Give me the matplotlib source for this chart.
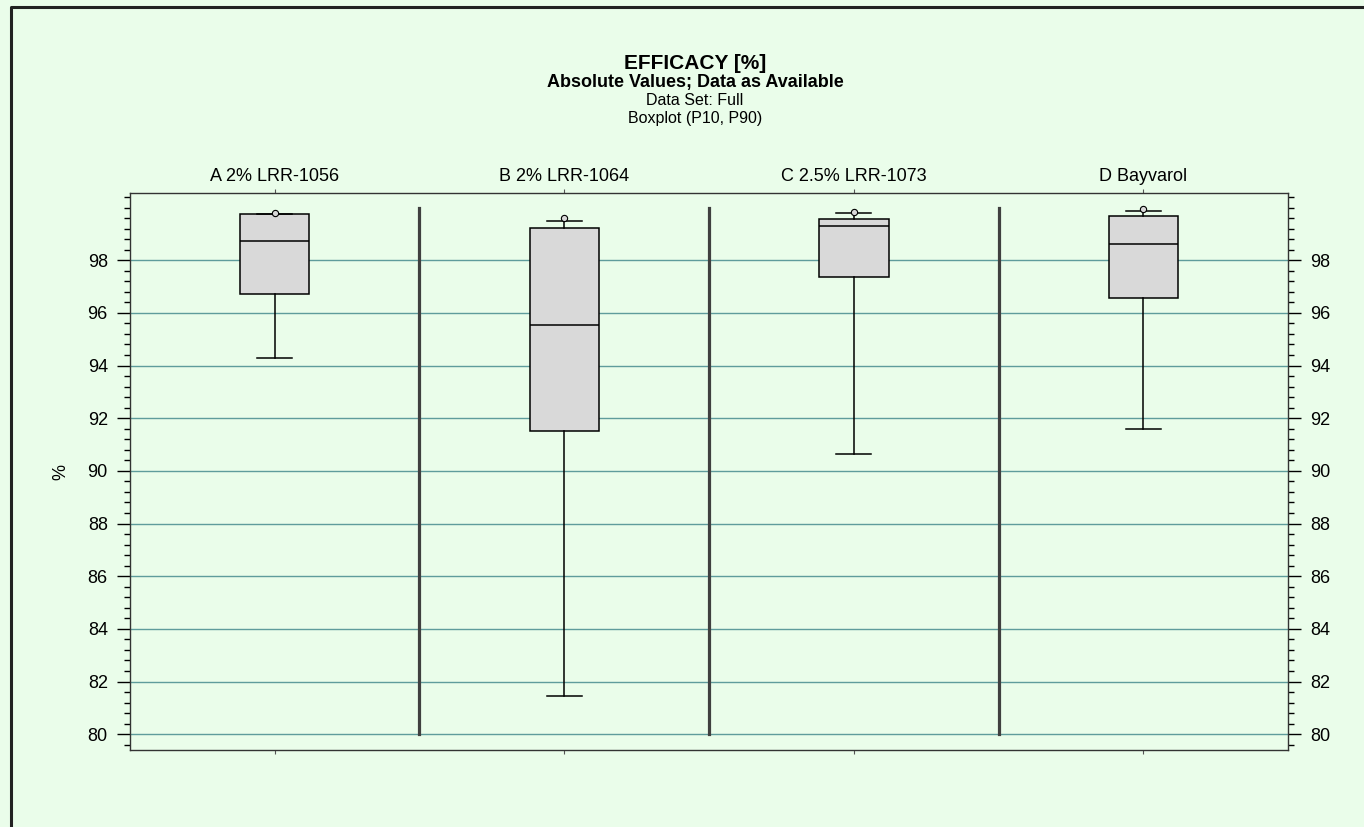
import matplotlib.pyplot as plt
from matplotlib.lines import Line2D
from matplotlib.ticker import MultipleLocator

plt.rcParams["font.family"] = ["Liberation Sans", "DejaVu Sans"]

# Boxplot summary per treatment (P10/P90 whiskers, max shown as point)
groups = ["A 2% LRR-1056", "B 2% LRR-1064", "C 2.5% LRR-1073", "D Bayvarol"]
p10 = [94.28, 81.45, 90.63, 91.58]
q1 = [96.71, 91.51, 97.35, 96.57]
median = [98.72, 95.52, 99.29, 98.61]
q3 = [99.75, 99.22, 99.57, 99.67]
p90 = [99.76, 99.50, 99.79, 99.85]
maxval = [99.80, 99.60, 99.82, 99.94]

bg = "#eafdea"
fig = plt.figure(figsize=(13.64, 8.27), dpi=100, facecolor=bg)
ax = fig.add_axes([0.0953, 0.0931, 0.849, 0.6735])
ax.set_facecolor(bg)

# outer frame
fig.add_artist(Line2D([11 / 1364, 11 / 1364, 1.0], [0.0, 1 - 7 / 827, 1 - 7 / 827],
                      transform=fig.transFigure, color="#222222", lw=2.2))

stats = []
for i, g in enumerate(groups):
    stats.append(dict(label=g, whislo=p10[i], q1=q1[i], med=median[i],
                      q3=q3[i], whishi=p90[i], fliers=[maxval[i]]))

pos = list(range(1, len(groups) + 1))
ax.bxp(stats, positions=pos, widths=0.24, patch_artist=True,
       boxprops=dict(facecolor="#d9d9d9", edgecolor="black", linewidth=1.1),
       medianprops=dict(color="black", linewidth=1.1),
       whiskerprops=dict(color="black", linewidth=1.1),
       capprops=dict(color="black", linewidth=1.1),
       flierprops=dict(marker="o", markersize=4.5, markerfacecolor="#d9d9d9",
                       markeredgecolor="black", markeredgewidth=0.8),
       capwidths=0.12, zorder=3)

# separators between treatments
for x in pos[:-1]:
    ax.plot([x + 0.5, x + 0.5], [80, 100], color="#404040", lw=2.3, zorder=2)

ax.set_xlim(0.5, len(groups) + 0.5)
ax.set_ylim(79.4, 100.55)
ax.yaxis.set_major_locator(MultipleLocator(2))
ax.yaxis.set_minor_locator(MultipleLocator(0.4))
ax.set_yticks(range(80, 100, 2))
ax.grid(axis="y", which="major", color="#5f9c9c", lw=1.0, zorder=1)
ax.set_axisbelow(True)

ax.tick_params(axis="y", which="major", direction="out", length=9.5, width=1,
               left=True, right=True, labelleft=True, labelright=True,
               labelsize=13, pad=6.5)
ax.tick_params(axis="y", which="minor", direction="out", length=4.5, width=1,
               left=True, right=True)
ax.set_xticks(pos)
ax.set_xticklabels([])
ax.tick_params(axis="x", direction="out", length=3, width=0.8,
               top=True, bottom=True, color="#555555")

for sp in ax.spines.values():
    sp.set_color("#333333")
    sp.set_linewidth(1.0)

for x, g in zip(pos, groups):
    ax.annotate(g, xy=(x, 1.0), xycoords=("data", "axes fraction"),
                xytext=(0, 9), textcoords="offset points",
                ha="center", va="baseline", fontsize=13)

ax.set_ylabel("%", fontsize=13)
ax.yaxis.set_label_coords(-0.052, 0.5)

cx = 0.5095
fig.text(cx, 1 - 69 / 827, "EFFICACY [%]", ha="center", va="baseline",
         fontsize=15, fontweight="bold")
fig.text(cx, 1 - 87 / 827, "Absolute Values; Data as Available", ha="center",
         va="baseline", fontsize=13, fontweight="bold")
fig.text(cx, 1 - 105 / 827, "Data Set: Full", ha="center", va="baseline",
         fontsize=11.5)
fig.text(cx, 1 - 123 / 827, "Boxplot (P10, P90)", ha="center", va="baseline",
         fontsize=11.5)

fig.savefig("out.png", dpi=100, facecolor=bg)
